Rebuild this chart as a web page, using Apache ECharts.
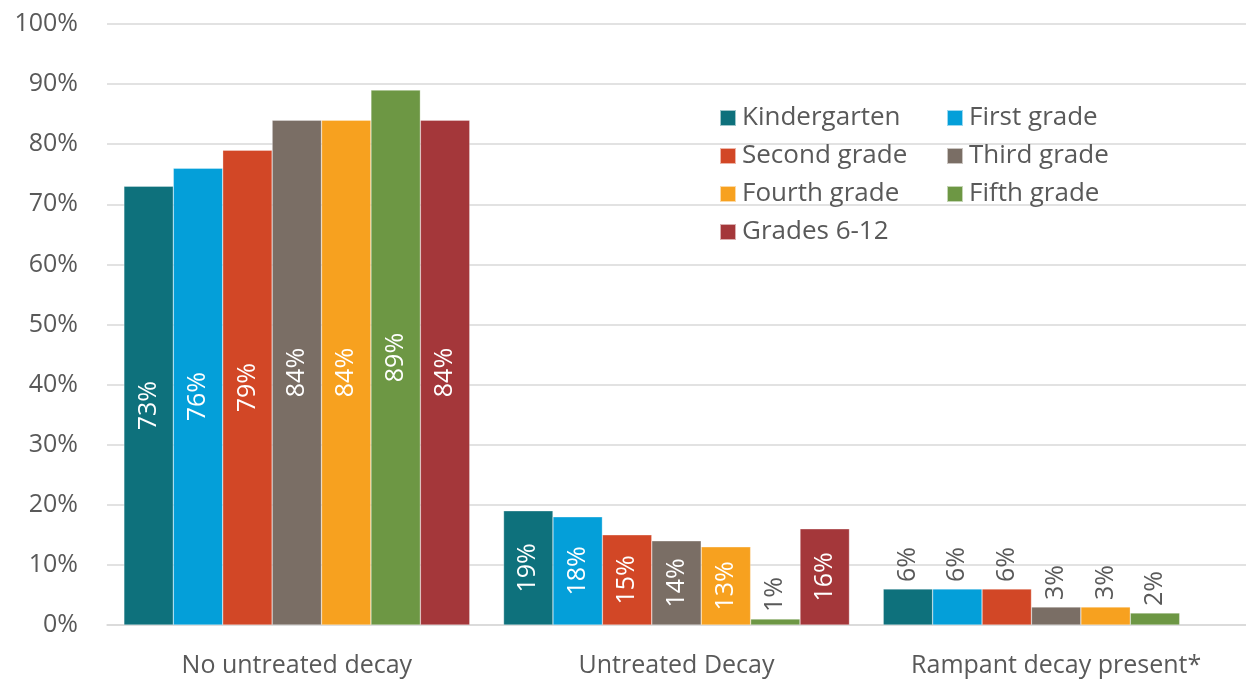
<!DOCTYPE html>
<html>
<head>
<meta charset="utf-8">
<style>
  html, body { margin: 0; padding: 0; background: #fff; }
  #chart { width: 1246px; height: 684px; }
</style>
</head>
<body>
<div id="chart"></div>
<script src="https://cdn.jsdelivr.net/npm/echarts@6/dist/echarts.min.js"></script>
<script>
// categories and values (percent)
const categories = ['No untreated decay', 'Untreated Decay', 'Rampant decay present*']
const grades = ['Kindergarten', 'First grade', 'Second grade', 'Third grade', 'Fourth grade', 'Fifth grade', 'Grades 6-12']
const kindergarten = [73, 19, 6]
const firstGrade = [76, 18, 6]
const secondGrade = [79, 15, 6]
const thirdGrade = [84, 14, 3]
const fourthGrade = [84, 13, 3]
const fifthGrade = [89, 1, 2]
const grades6to12 = [84, 16, null]
const yTicks = [0, 10, 20, 30, 40, 50, 60, 70, 80, 90, 100]

const colors = ['#0E717C', '#049FD9', '#D24726', '#7A6E65', '#F7A11F', '#6D9744', '#A4373A']
const textColor = '#595959'
const fontFamily = '"Open Sans", "Noto Sans", sans-serif'

const allValues = [kindergarten, firstGrade, secondGrade, thirdGrade, fourthGrade, fifthGrade, grades6to12]

// label goes inside the bar when it fits, above it otherwise
function buildData(values) {
  return values.map(v => {
    if (v == null) return null
    if (v >= 10) {
      return { value: v }
    }
    return {
      value: v,
      label: {
        position: 'top',
        color: textColor,
        align: 'left',
        verticalAlign: 'middle',
        distance: 7
      }
    }
  })
}

const series = grades.map((name, i) => ({
  name: name,
  type: 'bar',
  barGap: '0%',
  barCategoryGap: '8.9%',
  itemStyle: { color: colors[i], borderColor: 'rgba(255,255,255,0.6)', borderWidth: 0.5 },
  label: {
    show: true,
    position: 'inside',
    rotate: 90,
    color: '#ffffff',
    fontFamily: fontFamily,
    fontSize: 25,
    formatter: p => p.value + '%'
  },
  data: buildData(allValues[i])
}))

const legendText = { color: textColor, fontFamily: fontFamily, fontSize: 26, padding: [0, 0, 0, 1] }

const option = {
  animation: false,
  backgroundColor: '#ffffff',
  grid: {
    left: 107,
    right: 0,
    top: 24,
    bottom: 59,
    containLabel: false
  },
  legend: [
    {
      orient: 'vertical',
      left: 714,
      top: 100,
      itemWidth: 16,
      itemHeight: 16,
      itemGap: 12,
      icon: 'rect',
      textStyle: legendText,
      data: [grades[0], grades[2], grades[4], grades[6]]
    },
    {
      orient: 'vertical',
      left: 941,
      top: 100,
      itemWidth: 16,
      itemHeight: 16,
      itemGap: 12,
      icon: 'rect',
      textStyle: legendText,
      data: [grades[1], grades[3], grades[5]]
    }
  ],
  xAxis: {
    type: 'category',
    data: categories,
    axisTick: { show: false },
    axisLine: { lineStyle: { color: '#D9D9D9', width: 1.5 } },
    axisLabel: {
      color: textColor,
      fontFamily: fontFamily,
      fontSize: 25,
      margin: 28
    }
  },
  yAxis: {
    type: 'value',
    min: yTicks[0],
    max: yTicks[yTicks.length - 1],
    interval: 10,
    axisLine: { show: false },
    axisTick: { show: false },
    splitLine: { lineStyle: { color: '#D9D9D9', width: 1.5 } },
    axisLabel: {
      color: textColor,
      fontFamily: fontFamily,
      fontSize: 25,
      margin: 29,
      formatter: '{value}%'
    }
  },
  series: series
}

const myChart = echarts.init(document.getElementById('chart'))
myChart.setOption(option)
</script>
</body>
</html>
